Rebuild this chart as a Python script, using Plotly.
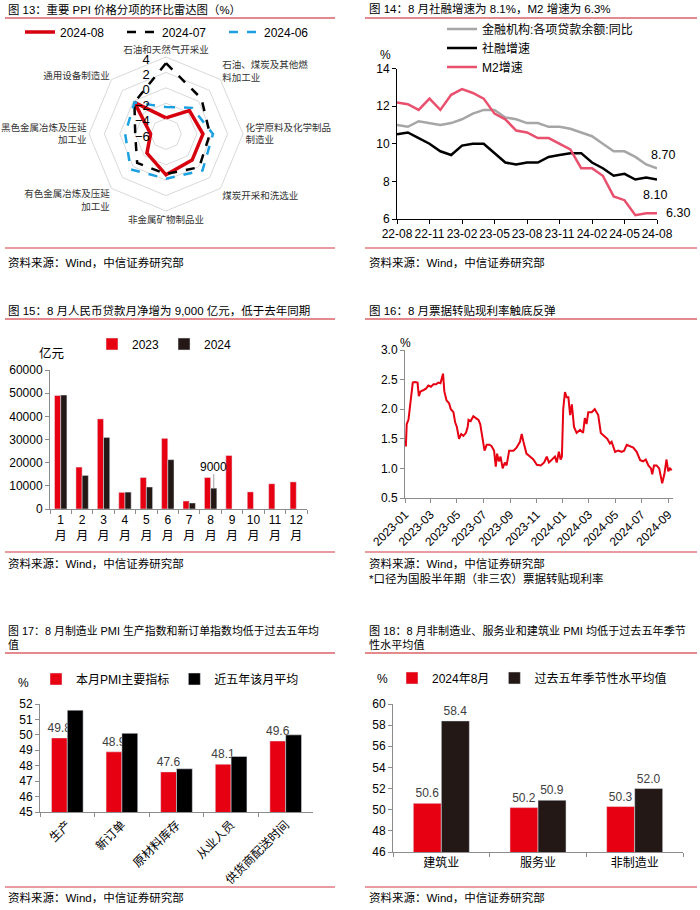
import plotly.graph_objects as go

W, H = 700, 910
FONT = "Liberation Sans, Arial, Noto Sans CJK SC, sans-serif"
CJK = "Noto Sans CJK SC, Liberation Sans, sans-serif"
RED = "#e60012"
DARK = "#231815"
BARGAP = 0.42

# ---------------- Fig 13: radar ----------------
radar_categories = ["石油和天然气开采业", "石油、煤炭及其他燃<br>料加工业", "化学原料及化学制品<br>制造业",
                    "煤炭开采和洗选业", "非金属矿物制品业", "有色金属冶炼及压延<br>加工业",
                    "黑色金属冶炼及压延<br>加工业", "通用设备制造业"]
ppi_2024_08 = [-3.9, -1.7, -1.2, -1.2, -0.7, -2.5, -4.0, -0.2]
ppi_2024_07 = [3.2, 0.5, -0.3, 0.1, -0.8, -0.7, -2.0, -0.2]
ppi_2024_06 = [-2.5, -1.2, 0.1, 0.7, -0.2, 0.5, -0.7, -0.2]
radar_ticks = [-6, -4, -2, 0, 2, 4]

# ---------------- Fig 14: growth lines ----------------
months14 = ["22-08", "22-09", "22-10", "22-11", "22-12", "23-01", "23-02", "23-03", "23-04",
            "23-05", "23-06", "23-07", "23-08", "23-09", "23-10", "23-11", "23-12", "24-01",
            "24-02", "24-03", "24-04", "24-05", "24-06", "24-07", "24-08"]
loan_growth = [11.0, 10.9, 11.2, 11.1, 11.0, 11.1, 11.3, 11.6, 11.8, 11.8, 11.4, 11.3, 11.1,
               11.1, 10.9, 10.9, 10.8, 10.6, 10.4, 10.0, 9.6, 9.6, 9.3, 8.9, 8.7]
tsf_growth = [10.5, 10.6, 10.3, 10.0, 9.6, 9.4, 9.9, 10.0, 10.0, 9.5, 9.0, 8.9, 9.0,
              9.0, 9.3, 9.4, 9.5, 9.5, 9.0, 8.7, 8.3, 8.4, 8.1, 8.2, 8.1]
m2_growth = [12.2, 12.1, 11.8, 12.4, 11.8, 12.6, 12.9, 12.7, 12.4, 11.6, 11.3, 10.7, 10.6,
             10.3, 10.3, 10.0, 9.7, 8.7, 8.7, 8.3, 7.2, 7.0, 6.2, 6.3, 6.3]
ticks14 = ["22-08", "22-11", "23-02", "23-05", "23-08", "23-11", "24-02", "24-05", "24-08"]

# ---------------- Fig 15: monthly new loans ----------------
months15 = ["1<br>月", "2<br>月", "3<br>月", "4<br>月", "5<br>月", "6<br>月", "7<br>月", "8<br>月",
            "9<br>月", "10<br>月", "11<br>月", "12<br>月"]
loans_2023 = [49000, 18100, 38900, 7188, 13600, 30500, 3459, 13600, 23100, 7384, 10900, 11700]
loans_2024 = [49200, 14500, 30900, 7300, 9500, 21300, 2600, 9000]

# ---------------- Fig 16: bill rediscount rate ----------------
dates16 = ["2023-01-03", "2023-01-05", "2023-01-09", "2023-01-13", "2023-01-16", "2023-01-19",
           "2023-01-24", "2023-01-30", "2023-02-02", "2023-02-06", "2023-02-12", "2023-02-19",
           "2023-02-24", "2023-03-02", "2023-03-08", "2023-03-14", "2023-03-19", "2023-03-24",
           "2023-03-30", "2023-04-02", "2023-04-07", "2023-04-13", "2023-04-17", "2023-04-23",
           "2023-04-27", "2023-05-01", "2023-05-06", "2023-05-11", "2023-05-16", "2023-05-22",
           "2023-05-26", "2023-05-28", "2023-06-02", "2023-06-08", "2023-06-14", "2023-06-20",
           "2023-06-24", "2023-06-30", "2023-07-04", "2023-07-09", "2023-07-15", "2023-07-20",
           "2023-07-26", "2023-07-30", "2023-08-02", "2023-08-06", "2023-08-10", "2023-08-15",
           "2023-08-20", "2023-08-24", "2023-08-30", "2023-09-09", "2023-09-16", "2023-09-24",
           "2023-09-28", "2023-10-02", "2023-10-09", "2023-10-17", "2023-10-25", "2023-11-02",
           "2023-11-11", "2023-11-19", "2023-11-25", "2023-11-30", "2023-12-08", "2023-12-14",
           "2023-12-18", "2023-12-23", "2023-12-27", "2023-12-30", "2024-01-02", "2024-01-06",
           "2024-01-10", "2024-01-14", "2024-01-18", "2024-01-22", "2024-01-27", "2024-02-02",
           "2024-02-10", "2024-02-17", "2024-02-21", "2024-02-25", "2024-02-29", "2024-03-08",
           "2024-03-15", "2024-03-23", "2024-03-29", "2024-04-05", "2024-04-13", "2024-04-19",
           "2024-04-23", "2024-05-01", "2024-05-08", "2024-05-16", "2024-05-22", "2024-05-28",
           "2024-06-04", "2024-06-12", "2024-06-20", "2024-06-28", "2024-07-05", "2024-07-11",
           "2024-07-17", "2024-07-23", "2024-07-26", "2024-07-30", "2024-08-05", "2024-08-11",
           "2024-08-18", "2024-08-23", "2024-08-28", "2024-09-01", "2024-09-05", "2024-09-09"]
rates16 = [1.37, 1.75, 1.82, 2.10, 2.25, 2.45, 2.46, 2.45, 2.22, 2.30, 2.32, 2.35,
           2.40, 2.38, 2.42, 2.42, 2.45, 2.44, 2.60, 2.30, 2.15, 2.10, 2.00, 1.95,
           1.78, 1.70, 1.50, 1.58, 1.55, 1.60, 1.70, 1.82, 1.80, 1.88, 1.85, 1.82,
           1.75, 1.45, 1.30, 1.40, 1.40, 1.38, 1.30, 1.03, 1.25, 1.12, 1.20, 1.00,
           1.10, 1.05, 1.30, 1.30, 1.35, 1.45, 1.58, 1.45, 1.25, 1.20, 1.15, 1.06,
           1.05, 1.10, 1.20, 1.10, 1.15, 1.20, 1.10, 1.28, 1.15, 1.20, 2.00, 2.29,
           2.20, 2.20, 1.90, 2.08, 1.70, 1.60, 1.65, 1.60, 1.85, 1.75, 1.95, 1.95,
           2.00, 1.90, 1.60, 1.55, 1.50, 1.42, 1.45, 1.28, 1.30, 1.28, 1.30, 1.40,
           1.38, 1.35, 1.28, 1.14, 1.12, 1.15, 1.05, 1.00, 0.90, 1.05, 1.05, 1.00,
           0.75, 0.90, 1.15, 0.95, 1.00, 0.97]
ticks16 = ["2023-01-01", "2023-03-01", "2023-05-01", "2023-07-01", "2023-09-01", "2023-11-01",
           "2024-01-01", "2024-03-01", "2024-05-01", "2024-07-01", "2024-09-01"]
ticktext16 = ["2023-01", "2023-03", "2023-05", "2023-07", "2023-09", "2023-11",
              "2024-01", "2024-03", "2024-05", "2024-07", "2024-09"]

# ---------------- Fig 17: manufacturing PMI ----------------
pmi_cats = ["生产", "新订单", "原材料库存", "从业人员", "供货商配送时间"]
pmi_aug = [49.8, 48.9, 47.6, 48.1, 49.6]
pmi_5yr = [51.6, 50.1, 47.8, 48.6, 50.0]

# ---------------- Fig 18: non-manufacturing PMI ----------------
nm_cats = ["建筑业", "服务业", "非制造业"]
nm_aug = [50.6, 50.2, 50.3]
nm_5yr = [58.4, 50.9, 52.0]


def fx(p):
    return p / W


def fy(p):
    return 1 - p / H


fig = go.Figure()

# radar traces
for vals, name, color, dash, width in [
    (ppi_2024_08, "2024-08", "#d7000f", "solid", 3.5),
    (ppi_2024_07, "2024-07", "#000000", "dash", 2.5),
    (ppi_2024_06, "2024-06", "#1ba1e2", "dash", 2.5),
]:
    fig.add_trace(go.Scatterpolar(r=vals + vals[:1], theta=radar_categories + radar_categories[:1],
                                  mode="lines", name=name, legend="legend",
                                  line=dict(color=color, width=width, dash=dash)))

# fig 14 lines
fig.add_trace(go.Scatter(x=months14, y=loan_growth, mode="lines", name="金融机构:各项贷款余额:同比",
                         line=dict(color="#a6a6a6", width=2.5), xaxis="x", yaxis="y", legend="legend2"))
fig.add_trace(go.Scatter(x=months14, y=tsf_growth, mode="lines", name="社融增速",
                         line=dict(color="#000000", width=2.5), xaxis="x", yaxis="y", legend="legend2"))
fig.add_trace(go.Scatter(x=months14, y=m2_growth, mode="lines", name="M2增速",
                         line=dict(color="#e8506e", width=2.5), xaxis="x", yaxis="y", legend="legend2"))

# fig 15 bars
fig.add_trace(go.Bar(x=months15, y=loans_2023, name="2023", marker_color=RED,
                     xaxis="x2", yaxis="y2", legend="legend3"))
fig.add_trace(go.Bar(x=months15[:len(loans_2024)], y=loans_2024, name="2024", marker_color=DARK,
                     xaxis="x2", yaxis="y2", legend="legend3"))

# fig 16 line
fig.add_trace(go.Scatter(x=dates16, y=rates16, mode="lines", line=dict(color=RED, width=2),
                         xaxis="x3", yaxis="y3", showlegend=False))

# fig 17 bars
fig.add_trace(go.Bar(x=pmi_cats, y=pmi_aug, name="本月PMI主要指标", marker_color=RED,
                     text=[f"{v:.1f}" for v in pmi_aug], textposition="outside", cliponaxis=False,
                     constraintext="none", textfont=dict(size=12, color="#404040"),
                     xaxis="x4", yaxis="y4", legend="legend4"))
fig.add_trace(go.Bar(x=pmi_cats, y=pmi_5yr, name="近五年该月平均", marker_color="#000000",
                     xaxis="x4", yaxis="y4", legend="legend4"))

# fig 18 bars
fig.add_trace(go.Bar(x=nm_cats, y=nm_aug, name="2024年8月", marker_color=RED,
                     text=[f"{v:.1f}" for v in nm_aug], textposition="outside", cliponaxis=False,
                     constraintext="none", textfont=dict(size=12, color="#404040"),
                     xaxis="x5", yaxis="y5", legend="legend5"))
fig.add_trace(go.Bar(x=nm_cats, y=nm_5yr, name="过去五年季节性水平均值", marker_color=DARK,
                     text=[f"{v:.1f}" for v in nm_5yr], textposition="outside", cliponaxis=False,
                     constraintext="none", textfont=dict(size=12, color="#404040"),
                     xaxis="x5", yaxis="y5", legend="legend5"))

axis_common = dict(showgrid=False, zeroline=False, showline=True, ticks="outside", ticklen=4,
                   automargin=False, tickfont=dict(size=12, color="#000"))
gray_axis = dict(linecolor="#8c8c8c", tickcolor="#8c8c8c")
black_axis = dict(linecolor="#000", tickcolor="#000")

legend_common = dict(bgcolor="rgba(0,0,0,0)", borderwidth=0, font=dict(size=12, family=FONT, color="#000"),
                     xanchor="left", yanchor="middle")

fig.update_layout(
    width=W, height=H, margin=dict(l=0, r=0, t=0, b=0, pad=0, autoexpand=False),
    paper_bgcolor="white", plot_bgcolor="white",
    font=dict(family=FONT, size=12, color="#000"),
    barmode="group", bargap=BARGAP, bargroupgap=0.0,
    polar=dict(
        domain=dict(x=[fx(89), fx(243)], y=[fy(211), fy(57)]),
        gridshape="linear", bgcolor="white",
        radialaxis=dict(range=[-6, 4], tickvals=radar_ticks, angle=90, side="counterclockwise",
                        showline=False, ticks="outside", ticklen=4, tickcolor="rgba(0,0,0,0)",
                        gridcolor="#d9d9d9", gridwidth=1,
                        tickfont=dict(size=13, color="#000"), layer="above traces"),
        angularaxis=dict(direction="clockwise", rotation=90, showgrid=False, showline=True,
                         linecolor="#d9d9d9", ticks="",
                         tickfont=dict(size=9.5, family=CJK, color="#333")),
    ),
    xaxis=dict(domain=[fx(397), fx(657)], anchor="y", type="category", range=[0, 24],
               tickmode="array", tickvals=ticks14, tickangle=0, **axis_common, **black_axis),
    yaxis=dict(domain=[fy(219), fy(68.5)], anchor="x", range=[6, 14], dtick=2,
               **axis_common, **black_axis),
    xaxis2=dict(domain=[fx(50), fx(307)], anchor="y2", type="category", tickson="boundaries",
                tickangle=0, **axis_common, **gray_axis),
    yaxis2=dict(domain=[fy(509), fy(370)], anchor="x2", range=[0, 60000], dtick=10000,
                tickformat="d", **axis_common, **gray_axis),
    xaxis3=dict(domain=[fx(405), fx(673)], anchor="y3", type="date",
                range=["2023-01-01", "2024-09-12"], tickmode="array", tickvals=ticks16,
                ticktext=ticktext16, tickangle=-45, **axis_common, **gray_axis),
    yaxis3=dict(domain=[fy(498), fy(350)], anchor="x3", range=[0.5, 3.0], dtick=0.5,
                tickformat=".1f", **axis_common, **gray_axis),
    xaxis4=dict(domain=[fx(40), fx(313)], anchor="y4", type="category", tickson="boundaries",
                tickangle=-45, **axis_common, **gray_axis),
    yaxis4=dict(domain=[fy(812), fy(704)], anchor="x4", range=[45, 52], dtick=1,
                **axis_common, **gray_axis),
    xaxis5=dict(domain=[fx(393), fx(683)], anchor="y5", type="category", tickson="boundaries",
                tickangle=0, **axis_common, **gray_axis),
    yaxis5=dict(domain=[fy(852), fy(704)], anchor="x5", range=[46, 60], dtick=2,
                **axis_common, **gray_axis),
    legend=dict(orientation="h", x=fx(20), y=fy(32), entrywidth=57, **legend_common),
    legend2=dict(orientation="v", x=fx(442), y=fy(48), tracegroupgap=0, **legend_common),
    legend3=dict(orientation="h", x=fx(92), y=fy(344), **legend_common),
    legend4=dict(orientation="h", x=fx(36), y=fy(679), **legend_common),
    legend5=dict(orientation="h", x=fx(392), y=fy(678), **legend_common),
)


def ann(text, x, y, size=12, xanchor="left", yanchor="middle", color="#000", family=FONT, **kw):
    d = dict(text=text, x=fx(x), y=fy(y), xref="paper", yref="paper", showarrow=False,
             xanchor=xanchor, yanchor=yanchor, font=dict(size=size, color=color, family=family))
    d.update(kw)
    return d


# centre of the 2024 (second) bar within the August category, in category units
aug_idx = 7
black_bar_x = aug_idx + (1 - BARGAP) / 4

annotations = [
    ann("图 13：重要 PPI 价格分项的环比雷达图（%）", 6, 10, size=11.4),
    ann("图 14：8 月社融增速为 8.1%，M2 增速为 6.3%", 367, 9, size=11.5),
    ann("图 15：8 月人民币贷款月净增为 9,000 亿元，低于去年同期", 6, 310, size=11.5),
    ann("图 16：8 月票据转贴现利率触底反弹", 367, 310, size=11.5),
    ann("图 17：8 月制造业 PMI 生产指数和新订单指数均低于过去五年均<br>值", 6, 622, size=10.9,
        yanchor="top", align="left"),
    ann("图 18：8 月非制造业、服务业和建筑业 PMI 均低于过去五年季节<br>性水平均值", 367, 622, size=11.1,
        yanchor="top", align="left"),
    ann("资料来源：Wind，中信证券研究部", 6, 262, size=11.5),
    ann("资料来源：Wind，中信证券研究部", 367, 262, size=11.5),
    ann("资料来源：Wind，中信证券研究部", 6, 563, size=11.5),
    ann("资料来源：Wind，中信证券研究部", 367, 563, size=11.5),
    ann("*口径为国股半年期（非三农）票据转贴现利率", 367, 578, size=11.5),
    ann("资料来源：Wind，中信证券研究部", 6, 897, size=11.5),
    ann("资料来源：Wind，中信证券研究部", 367, 897, size=11.5),
    ann("%", 385, 55, xanchor="center"),
    ann("亿元", 51, 354, xanchor="center", size=12.5),
    ann("%", 405, 343, xanchor="center"),
    ann("%", 23, 683, xanchor="center"),
    ann("%", 382, 679, xanchor="center"),
    # line end labels (data coordinates)
    dict(text=f"{loan_growth[-1]:.2f}", x=months14[-1], y=loan_growth[-1], xref="x", yref="y",
         showarrow=False, xanchor="center", yanchor="middle", xshift=6, yshift=13,
         font=dict(size=12.5, color="#000")),
    dict(text=f"{tsf_growth[-1]:.2f}", x=months14[-1], y=tsf_growth[-1], xref="x", yref="y",
         showarrow=False, xanchor="center", yanchor="middle", xshift=-2, yshift=-16,
         font=dict(size=12.5, color="#000")),
    dict(text=f"{m2_growth[-1]:.2f}", x=months14[-1], y=m2_growth[-1], xref="x", yref="y",
         showarrow=False, xanchor="left", yanchor="middle", xshift=7, yshift=0,
         font=dict(size=12.5, color="#000")),
    dict(text=f"{loans_2024[aug_idx]}", x=black_bar_x, y=loans_2024[aug_idx], xref="x2", yref="y2",
         showarrow=False, xanchor="center", yanchor="middle", yshift=21,
         font=dict(size=12, color="#000")),
]

shapes = []
for x0, x1, y in [(5, 335, 18), (365, 697, 18), (5, 335, 319), (365, 697, 319),
                  (5, 335, 653), (365, 697, 653)]:
    shapes.append(dict(type="line", xref="paper", yref="paper", x0=fx(x0), x1=fx(x1),
                       y0=fy(y), y1=fy(y), line=dict(color="#c9151e", width=1)))
for x0, x1, y in [(5, 335, 248), (365, 697, 248), (5, 335, 552), (365, 697, 552),
                  (5, 335, 887), (365, 697, 887)]:
    shapes.append(dict(type="line", xref="paper", yref="paper", x0=fx(x0), x1=fx(x1),
                       y0=fy(y), y1=fy(y), line=dict(color="#e07a80", width=1.5)))
# leader line from the 9000 label to the August 2024 bar
shapes.append(dict(type="line", xref="x2", yref="y2", x0=black_bar_x, x1=black_bar_x,
                   ysizemode="pixel", yanchor=loans_2024[aug_idx], y0=0, y1=14,
                   line=dict(color="#a0a0a0", width=1)))

fig.update_layout(annotations=annotations, shapes=shapes)
fig.write_html("out.html", config={"displayModeBar": False},
               post_script="document.body.style.margin='0';document.body.style.overflow='hidden';")
